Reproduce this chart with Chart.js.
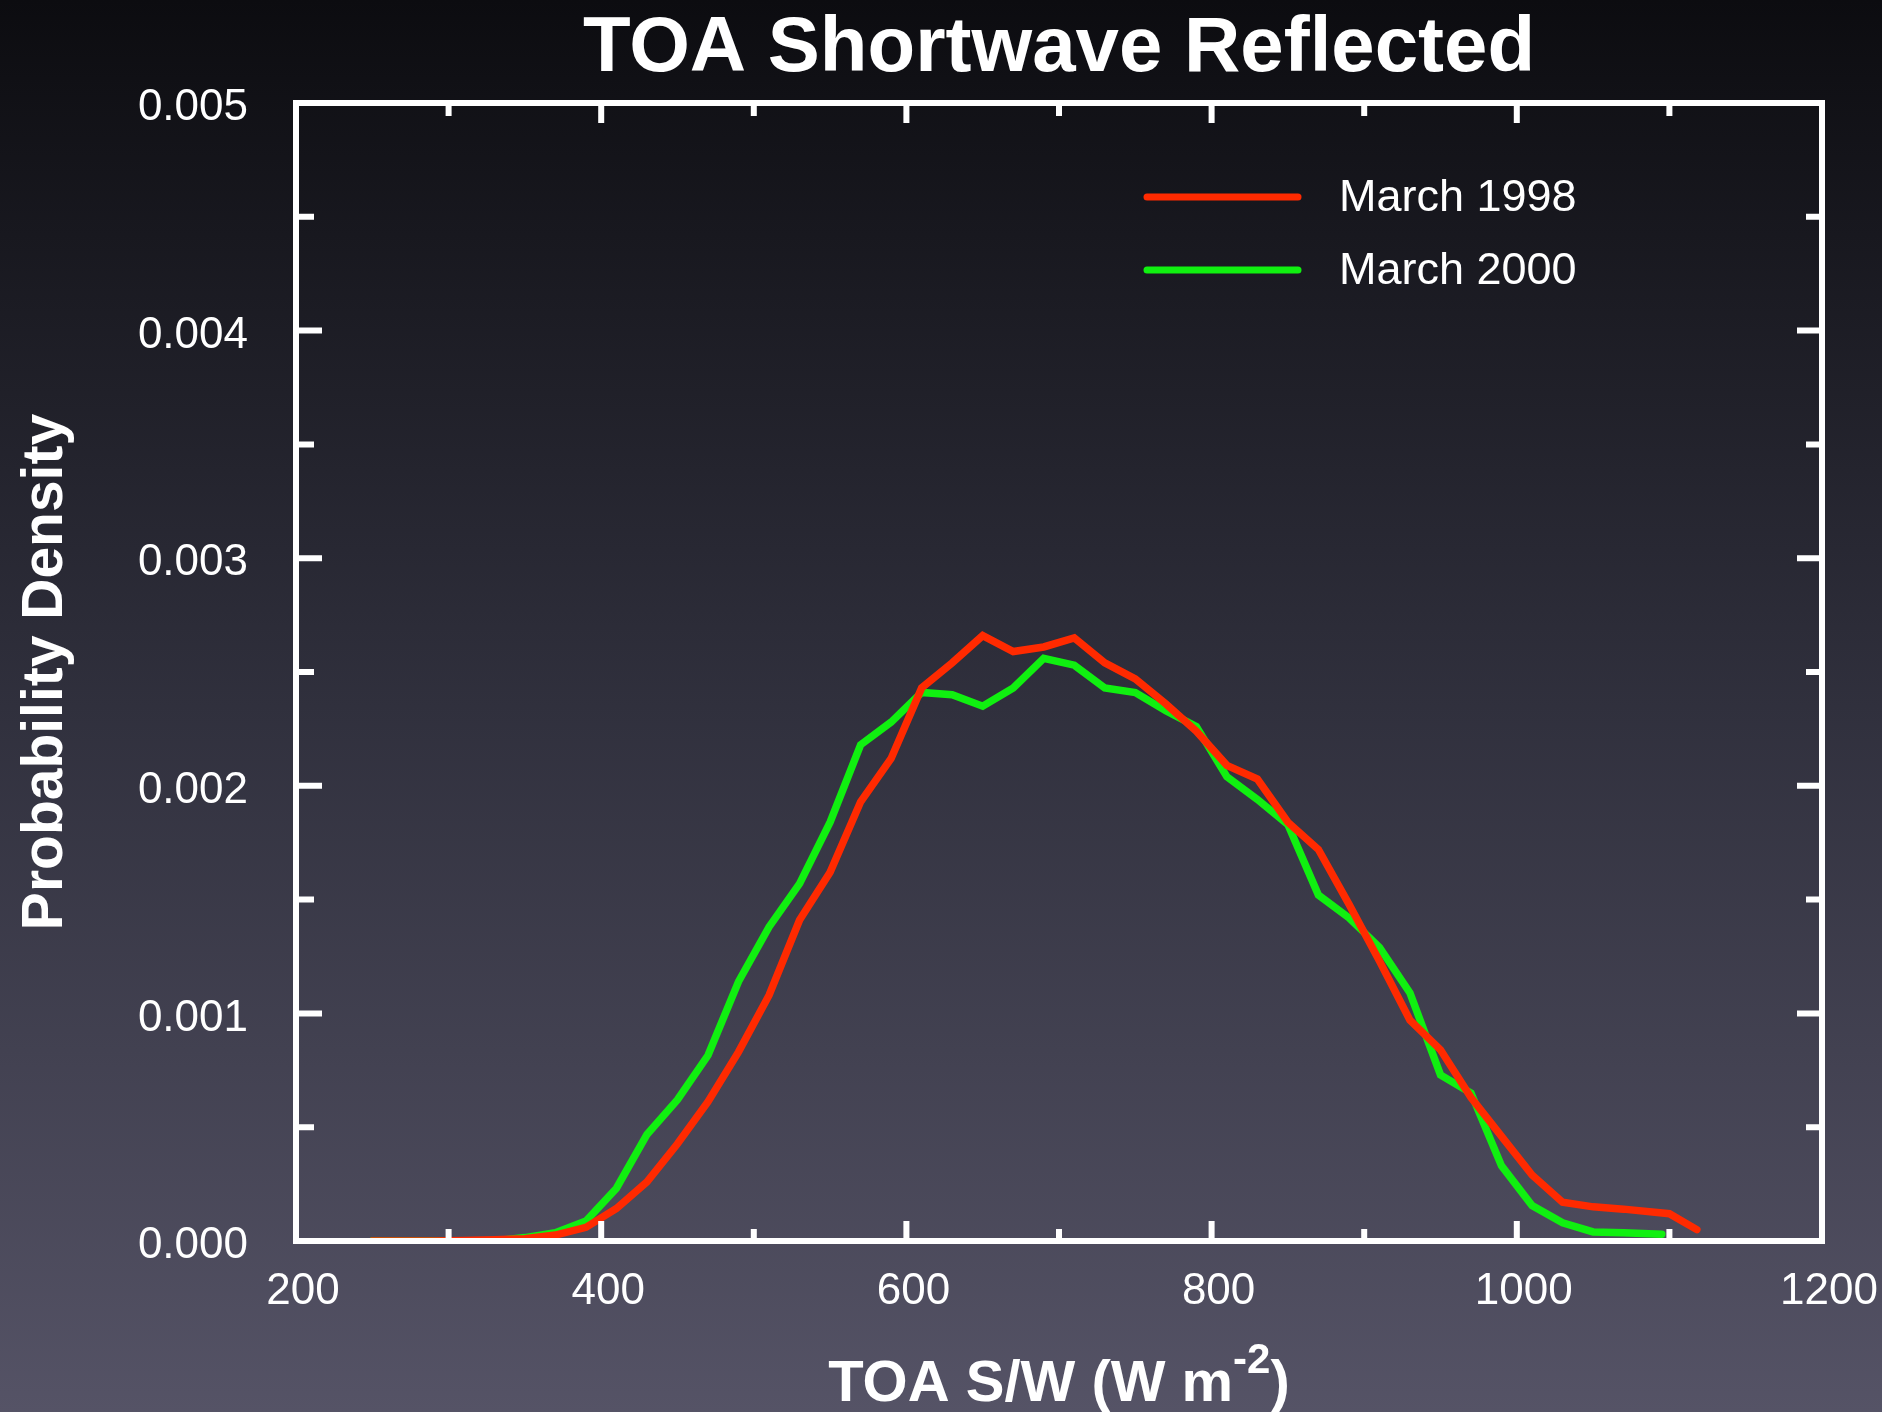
<!DOCTYPE html>
<html>
<head>
<meta charset="utf-8">
<title>TOA Shortwave Reflected</title>
<script src="https://cdn.jsdelivr.net/npm/chart.js@4.4.1/dist/chart.umd.min.js"></script>
<style>
  html, body { margin: 0; padding: 0; }
  body {
    width: 1882px;
    height: 1412px;
    overflow: hidden;
    background: linear-gradient(to bottom, #0c0c10 0%, #30303d 50%, #555366 100%);
  }
  canvas { display: block; }
</style>
</head>
<body>
<canvas id="pdf" width="1882" height="1412"></canvas>
<script>
// TOA shortwave (W m-2) bin centres and probability density per month
const swMarch1998 = [250, 270, 290, 310, 330, 350, 370, 390, 410, 430, 450, 470, 490, 510, 530, 550, 570, 590,
  610, 630, 650, 670, 690, 710, 730, 750, 770, 790, 810, 830, 850, 870, 890, 910, 930, 950, 970, 990,
  1010, 1030, 1050, 1070, 1100, 1118];
const pdMarch1998 = [0, 0, 0, 0.000002, 0.000005, 0.00001, 0.000026, 0.00006, 0.000143, 0.00026, 0.000427,
  0.000612, 0.000831, 0.00108, 0.00141, 0.00162, 0.00193, 0.00212, 0.00243, 0.00254, 0.00266, 0.00259,
  0.00261, 0.00265, 0.00254, 0.00247, 0.00236, 0.00224, 0.00209, 0.00203, 0.00184, 0.00172, 0.00148,
  0.00123, 0.00097, 0.00084, 0.00063, 0.00046, 0.00029, 0.00017, 0.00015, 0.00014, 0.00012, 0.00005];

const swMarch2000 = [250, 270, 290, 310, 330, 350, 370, 390, 410, 430, 450, 470, 490, 510, 530, 550, 570, 590,
  610, 630, 650, 670, 690, 710, 730, 750, 770, 790, 810, 830, 850, 870, 890, 910, 930, 950, 970, 990,
  1010, 1030, 1050, 1070, 1095];
const pdMarch2000 = [0, 0, 0, 0, 0, 0.000015, 0.000036, 0.000088, 0.000232, 0.000468, 0.000621, 0.000816,
  0.00114, 0.00138, 0.00157, 0.00184, 0.00218, 0.00228, 0.00241, 0.0024, 0.00235, 0.00243, 0.00256,
  0.00253, 0.00243, 0.00241, 0.00233, 0.00226, 0.00204, 0.00194, 0.00183, 0.00152, 0.00142, 0.00129,
  0.00109, 0.00073, 0.00065, 0.00033, 0.000156, 0.00008, 0.00004, 0.000036, 0.00003];

const seriesNames = ['March 1998', 'March 2000'];
const seriesColors = ['#ff2a00', '#10f010'];

const FONT = '"Liberation Sans", Arial, Helvetica, sans-serif';

function toPoints(xs, ys) {
  return xs.map((x, i) => ({ x: x, y: ys[i] }));
}

// white box round the plot with inward ticks on all four sides
const frameTicks = {
  id: 'frameTicks',
  afterDatasetsDraw(chart) {
    const { ctx, chartArea: a, scales } = chart;
    const xs = scales.x, ys = scales.y;
    ctx.save();
    ctx.strokeStyle = '#ffffff';
    ctx.lineWidth = 6;
    ctx.lineCap = 'butt';
    ctx.beginPath();

    const xv = xs.ticks.map(t => t.value);
    xv.forEach((v, i) => {
      const px = xs.getPixelForValue(v);
      ctx.moveTo(px, a.bottom); ctx.lineTo(px, a.bottom - 20);
      ctx.moveTo(px, a.top); ctx.lineTo(px, a.top + 20);
      if (i < xv.length - 1) {
        const pm = xs.getPixelForValue((v + xv[i + 1]) / 2);
        ctx.moveTo(pm, a.bottom); ctx.lineTo(pm, a.bottom - 12);
        ctx.moveTo(pm, a.top); ctx.lineTo(pm, a.top + 13);
      }
    });

    const yv = ys.ticks.map(t => t.value);
    yv.forEach((v, i) => {
      const py = ys.getPixelForValue(v);
      ctx.moveTo(a.left, py); ctx.lineTo(a.left + 26, py);
      ctx.moveTo(a.right, py); ctx.lineTo(a.right - 25, py);
      if (i < yv.length - 1) {
        const pm = ys.getPixelForValue((v + yv[i + 1]) / 2);
        ctx.moveTo(a.left, pm); ctx.lineTo(a.left + 18, pm);
        ctx.moveTo(a.right, pm); ctx.lineTo(a.right - 16, pm);
      }
    });
    ctx.stroke();

    ctx.lineJoin = 'miter';
    ctx.strokeRect(a.left, a.top, a.right - a.left, a.bottom - a.top);
    ctx.restore();
  }
};

// axis titles (x title has a superscript) and the in-plot legend
const labelsAndKey = {
  id: 'labelsAndKey',
  afterDraw(chart) {
    const { ctx, chartArea: a } = chart;
    ctx.save();
    ctx.fillStyle = '#ffffff';

    // x axis title
    const mainFont = 'bold 58px ' + FONT;
    const supFont = 'bold 42px ' + FONT;
    const p1 = 'TOA S/W (W m', p2 = '-2', p3 = ')';
    ctx.font = mainFont;
    const w1 = ctx.measureText(p1).width, w3 = ctx.measureText(p3).width;
    ctx.font = supFont;
    const w2 = ctx.measureText(p2).width;
    let tx = (a.left + a.right) / 2 - (w1 + w2 + w3) / 2;
    const base = 1401;
    ctx.textBaseline = 'alphabetic';
    ctx.textAlign = 'left';
    ctx.font = mainFont;
    ctx.fillText(p1, tx, base);
    tx += w1;
    ctx.font = supFont;
    ctx.fillText(p2, tx, base - 28);
    tx += w2;
    ctx.font = mainFont;
    ctx.fillText(p3, tx, base);

    // y axis title
    ctx.save();
    ctx.translate(62, (a.top + a.bottom) / 2);
    ctx.rotate(-Math.PI / 2);
    ctx.textAlign = 'center';
    ctx.font = 'bold 57px ' + FONT;
    ctx.fillText('Probability Density', 0, 0);
    ctx.restore();

    // legend
    ctx.font = '45px ' + FONT;
    ctx.textBaseline = 'middle';
    ctx.lineWidth = 7;
    ctx.lineCap = 'round';
    chart.data.datasets.forEach((ds, i) => {
      const ly = 197 + i * 73;
      ctx.strokeStyle = ds.borderColor;
      ctx.beginPath();
      ctx.moveTo(1147, ly);
      ctx.lineTo(1298, ly);
      ctx.stroke();
      ctx.fillText(ds.label, 1339, ly + 2);
    });
    ctx.restore();
  }
};

new Chart(document.getElementById('pdf'), {
  type: 'line',
  data: {
    datasets: [
      {
        label: seriesNames[0],
        data: toPoints(swMarch1998, pdMarch1998),
        borderColor: seriesColors[0],
        borderWidth: 7.5,
        borderCapStyle: 'round',
        pointRadius: 0,
        tension: 0,
        fill: false
      },
      {
        label: seriesNames[1],
        data: toPoints(swMarch2000, pdMarch2000),
        borderColor: seriesColors[1],
        borderWidth: 7.5,
        borderCapStyle: 'round',
        pointRadius: 0,
        tension: 0,
        fill: false
      }
    ]
  },
  options: {
    responsive: false,
    animation: false,
    devicePixelRatio: 1,
    layout: { padding: { top: 0, right: 60, bottom: 0, left: 0 } },
    plugins: {
      legend: { display: false },
      tooltip: { enabled: false },
      title: {
        display: true,
        fullSize: false,
        text: 'TOA Shortwave Reflected',
        color: '#ffffff',
        font: { family: FONT, size: 78, weight: 'bold', lineHeight: 1 },
        padding: { top: 10, bottom: 15 }
      }
    },
    scales: {
      x: {
        type: 'linear',
        min: 200,
        max: 1200,
        grid: { display: false, drawTicks: false },
        border: { display: false },
        ticks: {
          stepSize: 200,
          color: '#ffffff',
          padding: 0,
          labelOffset: 7,
          maxRotation: 0,
          font: { family: FONT, size: 44, lineHeight: 2.3 },
          callback: v => String(v)
        },
        afterFit(scale) { scale.height = 171; }
      },
      y: {
        min: 0,
        max: 0.005,
        grid: { display: false, drawTicks: false },
        border: { display: false },
        ticks: {
          stepSize: 0.001,
          color: '#ffffff',
          padding: 48,
          labelOffset: 5,
          font: { family: FONT, size: 44 },
          callback: v => v.toFixed(3)
        },
        afterFit(scale) { scale.width = 296; }
      }
    }
  },
  plugins: [frameTicks, labelsAndKey]
});
</script>
</body>
</html>
